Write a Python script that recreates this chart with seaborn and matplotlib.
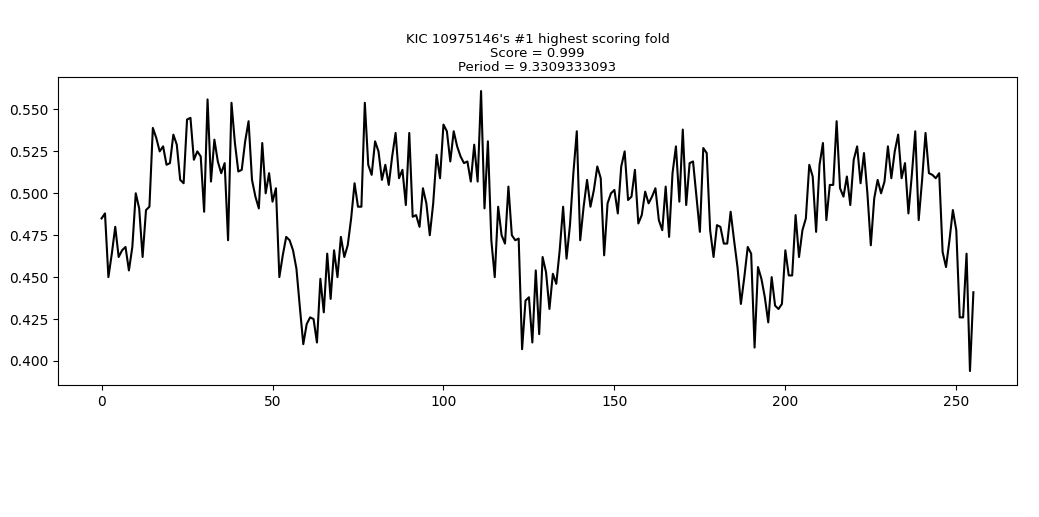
import matplotlib
matplotlib.use("Agg")
import matplotlib.pyplot as plt
import numpy as np
import pandas as pd
import seaborn as sns

star_id = "KIC 10975146"
score = 0.999
period = 9.3309333093

# Folded, binned light curve (256 phase bins)
flux_0_63 = [
    0.485, 0.488, 0.450, 0.464, 0.480, 0.462, 0.466, 0.468, 0.454, 0.468,
    0.500, 0.491, 0.462, 0.490, 0.492, 0.539, 0.533, 0.525, 0.528, 0.517,
    0.518, 0.535, 0.529, 0.508, 0.506, 0.544, 0.545, 0.520, 0.525, 0.522,
    0.489, 0.556, 0.507, 0.532, 0.519, 0.512, 0.518, 0.472, 0.554, 0.530,
    0.513, 0.514, 0.531, 0.543, 0.508, 0.498, 0.491, 0.530, 0.500, 0.512,
    0.495, 0.503, 0.450, 0.463, 0.474, 0.472, 0.466, 0.455, 0.432, 0.410,
    0.422, 0.426, 0.425, 0.411,
]
flux_64_127 = [
    0.449, 0.429, 0.464, 0.437, 0.466, 0.450, 0.474, 0.462, 0.469, 0.485,
    0.506, 0.492, 0.492, 0.554, 0.517, 0.511, 0.531, 0.525, 0.508, 0.517,
    0.505, 0.522, 0.536, 0.509, 0.514, 0.493, 0.536, 0.486, 0.487, 0.480,
    0.503, 0.494, 0.475, 0.494, 0.523, 0.509, 0.541, 0.537, 0.519, 0.537,
    0.528, 0.522, 0.518, 0.519, 0.507, 0.529, 0.507, 0.561, 0.491, 0.531,
    0.472, 0.450, 0.492, 0.475, 0.470, 0.504, 0.475, 0.472, 0.473, 0.407,
    0.436, 0.438, 0.411, 0.454,
]
flux_128_191 = [
    0.416, 0.462, 0.453, 0.431, 0.452, 0.446, 0.466, 0.492, 0.461, 0.481,
    0.512, 0.537, 0.472, 0.492, 0.508, 0.492, 0.502, 0.516, 0.509, 0.463,
    0.494, 0.500, 0.502, 0.488, 0.516, 0.525, 0.496, 0.498, 0.514, 0.482,
    0.487, 0.501, 0.494, 0.498, 0.503, 0.484, 0.478, 0.504, 0.474, 0.512,
    0.528, 0.495, 0.538, 0.493, 0.518, 0.519, 0.498, 0.477, 0.527, 0.524,
    0.478, 0.462, 0.481, 0.480, 0.470, 0.470, 0.489, 0.472, 0.456, 0.434,
    0.450, 0.468, 0.464, 0.408,
]
flux_192_255 = [
    0.456, 0.449, 0.438, 0.423, 0.450, 0.433, 0.431, 0.434, 0.466, 0.451,
    0.451, 0.487, 0.462, 0.478, 0.485, 0.517, 0.510, 0.477, 0.517, 0.530,
    0.484, 0.505, 0.505, 0.543, 0.503, 0.498, 0.510, 0.493, 0.520, 0.528,
    0.506, 0.524, 0.500, 0.469, 0.497, 0.508, 0.500, 0.507, 0.528, 0.509,
    0.525, 0.535, 0.509, 0.518, 0.488, 0.511, 0.537, 0.484, 0.508, 0.536,
    0.512, 0.511, 0.509, 0.512, 0.465, 0.456, 0.472, 0.490, 0.478, 0.426,
    0.426, 0.464, 0.394, 0.441,
]

flux = flux_0_63 + flux_64_127 + flux_128_191 + flux_192_255
phase_bin = list(range(len(flux)))
df = pd.DataFrame({"bin": phase_bin, "flux": flux})

fig = plt.figure(figsize=(10.39, 5.17), dpi=100)
ax = fig.add_axes([0.0558, 0.2553, 0.9230, 0.5957])

sns.lineplot(data=df, x="bin", y="flux", color="black", linewidth=1.5, ax=ax)

ax.set_xlabel("")
ax.set_ylabel("")
ax.set_xticks([0, 50, 100, 150, 200, 250])
ax.set_yticks([0.400, 0.425, 0.450, 0.475, 0.500, 0.525, 0.550])
ax.set_title(f"{star_id}'s #1 highest scoring fold\nScore = {score}\nPeriod = {period}",
             fontsize=9.5, pad=4, linespacing=1.1)

fig.savefig("out.png", dpi=100)
